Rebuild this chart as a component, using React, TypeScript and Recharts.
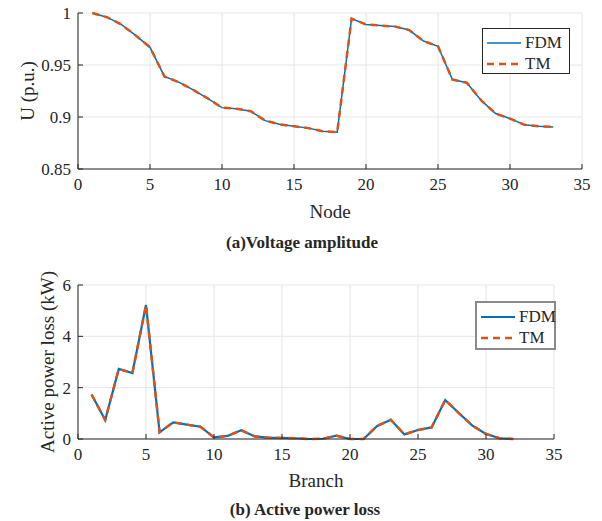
import { CartesianGrid, Line, LineChart, XAxis, YAxis } from "recharts";

// (a) voltage amplitude per node
const nodes = [
  1, 2, 3, 4, 5, 6, 7, 8, 9, 10, 11, 12, 13, 14, 15, 16, 17, 18, 19, 20, 21, 22, 23, 24, 25, 26, 27,
  28, 29, 30, 31, 32, 33,
];
const voltageFDM = [
  1.0, 0.996, 0.989, 0.9785, 0.967, 0.939, 0.9335, 0.926, 0.918, 0.909, 0.908, 0.9055, 0.8965, 0.893,
  0.891, 0.8893, 0.8864, 0.8854, 0.9946, 0.989, 0.988, 0.987, 0.9836, 0.973, 0.968, 0.936, 0.933,
  0.916, 0.9033, 0.8984, 0.8925, 0.891, 0.8904,
];
const voltageTM = [
  1.0, 0.996, 0.989, 0.9785, 0.967, 0.939, 0.9335, 0.926, 0.918, 0.909, 0.908, 0.9055, 0.8965, 0.893,
  0.891, 0.8893, 0.8864, 0.8854, 0.9946, 0.989, 0.988, 0.987, 0.9836, 0.973, 0.968, 0.936, 0.933,
  0.916, 0.9033, 0.8984, 0.8925, 0.891, 0.8904,
];

// (b) active power loss per branch, kW
const branches = [
  1, 2, 3, 4, 5, 6, 7, 8, 9, 10, 11, 12, 13, 14, 15, 16, 17, 18, 19, 20, 21, 22, 23, 24, 25, 26, 27,
  28, 29, 30, 31, 32,
];
const lossFDM = [
  1.73, 0.74, 2.73, 2.57, 5.22, 0.26, 0.65, 0.56, 0.48, 0.06, 0.12, 0.34, 0.1, 0.05, 0.04, 0.03, 0.0,
  0.01, 0.13, 0.0, 0.0, 0.51, 0.75, 0.18, 0.35, 0.45, 1.52, 1.01, 0.52, 0.2, 0.03, 0.0,
];
const lossTM = [
  1.73, 0.74, 2.73, 2.57, 5.22, 0.26, 0.65, 0.56, 0.48, 0.06, 0.12, 0.34, 0.1, 0.05, 0.04, 0.03, 0.0,
  0.01, 0.13, 0.0, 0.0, 0.51, 0.75, 0.18, 0.35, 0.45, 1.52, 1.01, 0.52, 0.2, 0.03, 0.0,
];

const xTicks = [0, 5, 10, 15, 20, 25, 30, 35];
const voltageTicks = [0.85, 0.9, 0.95, 1];
const lossTicks = [0, 2, 4, 6];

const voltageData = nodes.map((node, i) => ({ node, fdm: voltageFDM[i], tm: voltageTM[i] }));
const lossData = branches.map((branch, i) => ({ branch, fdm: lossFDM[i], tm: lossTM[i] }));

const FONT = "Liberation Serif";
const INK = "#262626";
const BLUE = "#0072BD";
const ORANGE = "#D95319";
const tickStyle = { fontFamily: FONT, fontSize: 17, fill: INK };

type LegendBoxProps = { left: number; top: number; width: number; height: number; border: string; fdmWidth: number };

const LegendBox = ({ left, top, width, height, border, fdmWidth }: LegendBoxProps) => (
  <div
    style={{
      position: "absolute",
      left,
      top,
      width,
      height,
      boxSizing: "border-box",
      border,
      background: "#fff",
      fontFamily: FONT,
      fontSize: 17,
      color: INK,
    }}
  >
    {[
      { name: "FDM", color: BLUE, dash: undefined, w: fdmWidth },
      { name: "TM", color: ORANGE, dash: "7 5", w: 2.5 },
    ].map((item, i) => (
      <div
        key={item.name}
        style={{ position: "absolute", left: 4, top: 3 + i * 21, height: 21, display: "flex", alignItems: "center" }}
      >
        <svg width={34} height={6} style={{ marginRight: 4 }}>
          <line x1={0} y1={3} x2={34} y2={3} stroke={item.color} strokeWidth={item.w} strokeDasharray={item.dash} />
        </svg>
        <span>{item.name}</span>
      </div>
    ))}
  </div>
);

const Label = ({ x, y, size, bold, rotate, children }: any) => (
  <div
    style={{
      position: "absolute",
      left: x,
      top: y,
      transform: `translate(-50%, -50%)${rotate ? " rotate(-90deg)" : ""}`,
      whiteSpace: "nowrap",
      fontFamily: FONT,
      fontSize: size,
      fontWeight: bold ? "bold" : "normal",
      color: INK,
      lineHeight: 1,
    }}
  >
    {children}
  </div>
);

const frameAxes = (yDomain: number[], yTicks: number[]) => [
  <XAxis
    key="top"
    xAxisId="top"
    orientation="top"
    type="number"
    domain={[0, 35]}
    ticks={xTicks}
    height={0}
    tick={false}
    tickSize={-5}
    axisLine={{ stroke: INK }}
    tickLine={{ stroke: INK }}
  />,
  <YAxis
    key="right"
    yAxisId="right"
    orientation="right"
    type="number"
    domain={yDomain}
    ticks={yTicks}
    width={0}
    tick={false}
    tickSize={-5}
    axisLine={{ stroke: INK }}
    tickLine={{ stroke: INK }}
  />,
];

export default function App() {
  return (
    <div
      style={{
        position: "absolute",
        left: 0,
        top: 0,
        width: 602,
        height: 521,
        background: "#fff",
        overflow: "hidden",
        fontFamily: FONT,
      }}
    >
      <div style={{ position: "absolute", left: 0, top: 0 }}>
        <LineChart width={602} height={200} data={voltageData} margin={{ top: 13, right: 20, bottom: 0, left: 0 }}>
          <CartesianGrid stroke="#e6e6e6" />
          <XAxis
            dataKey="node"
            type="number"
            domain={[0, 35]}
            ticks={xTicks}
            height={31}
            tickSize={-5}
            tickMargin={14}
            tick={tickStyle}
            axisLine={{ stroke: INK }}
            tickLine={{ stroke: INK }}
          />
          <YAxis
            type="number"
            domain={[0.85, 1]}
            ticks={voltageTicks}
            width={78}
            tickSize={-5}
            tickMargin={12}
            tick={tickStyle}
            axisLine={{ stroke: INK }}
            tickLine={{ stroke: INK }}
          />
          {frameAxes([0.85, 1], voltageTicks)}
          <Line dataKey="fdm" name="FDM" stroke={BLUE} strokeWidth={1.5} dot={false} isAnimationActive={false} />
          <Line
            dataKey="tm"
            name="TM"
            stroke={ORANGE}
            strokeWidth={2.5}
            strokeDasharray="7 5"
            dot={false}
            isAnimationActive={false}
          />
        </LineChart>
      </div>
      <LegendBox left={482} top={28} width={88} height={46} border={`1px solid ${INK}`} fdmWidth={1.5} />
      <Label x={27} y={91} size={19} rotate>
        U (p.u.)
      </Label>
      <Label x={330} y={211} size={19}>
        Node
      </Label>
      <Label x={302} y={242} size={17} bold>
        (a)Voltage amplitude
      </Label>

      <div style={{ position: "absolute", left: 0, top: 272 }}>
        <LineChart width={602} height={198} data={lossData} margin={{ top: 13, right: 48, bottom: 0, left: 0 }}>
          <CartesianGrid stroke="#e6e6e6" />
          <XAxis
            dataKey="branch"
            type="number"
            domain={[0, 35]}
            ticks={xTicks}
            height={31}
            tickSize={-5}
            tickMargin={14}
            tick={tickStyle}
            axisLine={{ stroke: INK }}
            tickLine={{ stroke: INK }}
          />
          <YAxis
            type="number"
            domain={[0, 6]}
            ticks={lossTicks}
            width={78}
            tickSize={-5}
            tickMargin={12}
            tick={tickStyle}
            axisLine={{ stroke: INK }}
            tickLine={{ stroke: INK }}
          />
          {frameAxes([0, 6], lossTicks)}
          <Line dataKey="fdm" name="FDM" stroke={BLUE} strokeWidth={2.2} dot={false} isAnimationActive={false} />
          <Line
            dataKey="tm"
            name="TM"
            stroke={ORANGE}
            strokeWidth={2.5}
            strokeDasharray="7 5"
            dot={false}
            isAnimationActive={false}
          />
        </LineChart>
      </div>
      <LegendBox left={475} top={301} width={81} height={49} border="2px solid #8a8a8a" fdmWidth={2.2} />
      <Label x={47} y={362} size={19} rotate>
        Active power loss (kW)
      </Label>
      <Label x={316} y={480} size={19}>
        Branch
      </Label>
      <Label x={305} y={509} size={17} bold>
        (b) Active power loss
      </Label>
    </div>
  );
}
